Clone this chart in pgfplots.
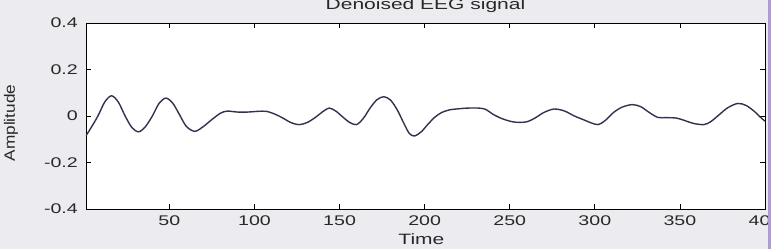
\documentclass[border=0pt]{standalone}
\usepackage{fontspec}
\setmainfont{Liberation Sans}
\usepackage{graphicx}
\usepackage{pgfplots}
\pgfplotsset{compat=1.18}
\newcommand\sx[1]{\scalebox{1.4}[1]{#1}}
\definecolor{bgc}{RGB}{236,236,240}
\definecolor{edgec}{RGB}{175,155,215}
\definecolor{linec}{RGB}{50,50,80}
\definecolor{txtc}{RGB}{40,40,40}
\begin{document}
\begin{tikzpicture}
\path[use as bounding box, fill=bgc] (-86bp,-40bp) rectangle (685bp,209bp);
\begin{axis}[
  at={(0,0)}, anchor=south west,
  scale only axis, width=679bp, height=186bp,
  xmin=1, xmax=400, ymin=-0.4, ymax=0.4,
  axis background/.style={fill=white},
  axis line style={black, line width=0.9bp},
  tick align=inside, major tick length=5bp,
  tick style={black, line width=0.8bp},
  xtick={50,100,150,200,250,300,350,400},
  xticklabels={\sx{50},\sx{100},\sx{150},\sx{200},\sx{250},\sx{300},\sx{350},\sx{400}},
  ytick={-0.4,-0.2,0,0.2,0.4},
  yticklabels={\sx{-0.4},\sx{-0.2},\sx{0},\sx{0.2},\sx{0.4}},
  every tick label/.append style={font=\fontsize{14bp}{16bp}\selectfont, text=txtc},
  every axis label/.append style={font=\fontsize{15bp}{17bp}\selectfont, text=txtc},
  every axis title/.append style={font=\fontsize{15bp}{17bp}\selectfont, text=txtc},
  xticklabel style={anchor=base, yshift=-16bp, inner sep=0pt},
  yticklabel style={anchor=east, inner sep=0pt, xshift=-8bp},
  title={\sx{Denoised EEG signal}},
  title style={at={(axis description cs:0.5,1)}, anchor=base, yshift=8bp},
  xlabel={\sx{Time}},
  xlabel style={at={(axis description cs:0.494,0)}, anchor=base, yshift=-35bp},
  ylabel={\scalebox{1.15}[1]{Amplitude}},
  ylabel style={at={(axis description cs:-0.1046,0.462)}, anchor=base},
]
\addplot[linec, line width=1.4bp, smooth, tension=0.5] coordinates {
(1,-0.085)(4,-0.05)(8,0.0)(12,0.06)(16,0.087)(20,0.06)(24,0.0)(28,-0.05)(32,-0.068)(36,-0.045)(40,0.0)(44,0.055)(48,0.077)(52,0.055)(56,0.005)(60,-0.045)(65,-0.066)(70,-0.045)(75,-0.015)(80,0.012)(84,0.021)(90,0.017)(96,0.017)(102,0.02)(107,0.02)(112,0.008)(117,-0.01)(121,-0.027)(126,-0.037)(131,-0.028)(136,-0.005)(140,0.018)(144,0.034)(148,0.02)(152,-0.005)(156,-0.028)(160,-0.037)(164,-0.01)(168,0.035)(172,0.07)(176,0.083)(180,0.068)(184,0.025)(188,-0.035)(191,-0.075)(194,-0.086)(198,-0.068)(202,-0.035)(206,-0.005)(210,0.015)(215,0.027)(220,0.031)(225,0.034)(232,0.034)(236,0.028)(240,0.008)(245,-0.01)(250,-0.022)(254,-0.027)(260,-0.025)(265,-0.008)(270,0.015)(276,0.03)(282,0.022)(288,0.0)(294,-0.018)(298,-0.03)(302,-0.037)(306,-0.02)(311,0.015)(316,0.038)(322,0.049)(327,0.04)(332,0.015)(337,-0.006)(342,-0.007)(348,-0.009)(353,-0.02)(358,-0.032)(364,-0.037)(368,-0.025)(373,0.005)(378,0.035)(384,0.054)(389,0.045)(394,0.018)(398,-0.01)(400,-0.022)
};
\end{axis}
\fill[edgec] (682bp,-40bp) rectangle (685bp,209bp);
\end{tikzpicture}
\end{document}
